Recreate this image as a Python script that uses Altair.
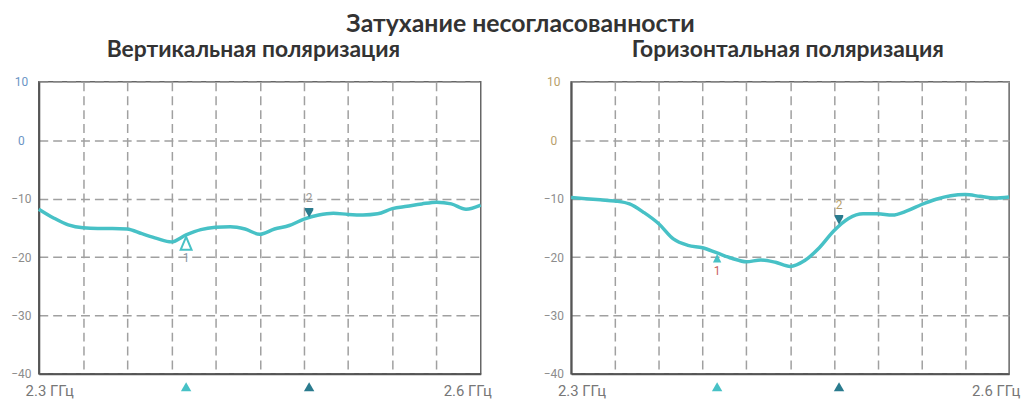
import altair as alt
import pandas as pd

# ---------------- data ----------------
freq_ghz = [2.30, 2.31, 2.32, 2.33, 2.34, 2.35, 2.36, 2.37, 2.38, 2.39,
            2.40, 2.41, 2.42, 2.43, 2.44, 2.45, 2.46, 2.47, 2.48, 2.49,
            2.50, 2.51, 2.52, 2.53, 2.54, 2.55, 2.56, 2.57, 2.58, 2.59, 2.60]

vert_db = [-11.8, -13.3, -14.5, -15.0, -15.1, -15.1, -15.2, -16.0, -16.8, -17.4,
           -16.2, -15.3, -14.9, -14.8, -15.2, -16.1, -15.2, -14.6, -13.5, -12.8,
           -12.5, -12.7, -12.8, -12.6, -11.7, -11.3, -10.9, -10.6, -10.9, -11.8, -11.1]

horz_db = [-9.8, -10.0, -10.2, -10.4, -10.9, -12.4, -14.3, -16.9, -18.0, -18.4,
           -19.3, -20.2, -20.8, -20.5, -20.9, -21.6, -20.6, -18.4, -15.5, -13.4,
           -12.6, -12.6, -12.8, -12.1, -11.0, -10.1, -9.5, -9.3, -9.6, -9.9, -9.7]

marker_ids = ["1", "2"]
marker_freq = [2.40, 2.4835]
vert_marker_db = [-16.2, -13.3]
horz_marker_db = [-19.4, -14.5]

y_ticks = [10, 0, -10, -20, -30, -40]
x_grid = [2.33, 2.36, 2.39, 2.42, 2.45, 2.48, 2.51, 2.54, 2.57]
x_end_freq = [2.3, 2.6]
x_end_text = ["2.3 ГГц", "2.6 ГГц"]

main_title = "Затухание несогласованности"
left_title = "Вертикальная поляризация"
right_title = "Горизонтальная поляризация"

# ---------------- styling ----------------
H = 294
LINE = "#47c1c6"
DARK = "#2a7b8e"
GRID = "#a0a0a0"


def panel(title, title_dx, values, marker_db, width, pos_label_color, lab1_color, lab2_color, hollow1):
    curve = pd.DataFrame({"f": freq_ghz, "db": values})
    mk = pd.DataFrame({"id": marker_ids, "f": marker_freq, "db": marker_db})
    m1 = mk[mk["id"] == "1"]
    m2 = mk[mk["id"] == "2"]
    ends = pd.DataFrame({"f": x_end_freq, "t": x_end_text})

    xs = alt.Scale(domain=[2.3, 2.6], nice=False, zero=False)
    ys = alt.Scale(domain=[-40, 10], nice=False, zero=False)

    x = alt.X("f:Q", scale=xs, title=None,
              axis=alt.Axis(values=x_grid, labels=False, ticks=False, grid=True,
                            gridDash=[9, 5], gridColor=GRID, gridWidth=1.5,
                            domainColor="#555", domainWidth=2))
    y = alt.Y("db:Q", scale=ys, title=None,
              axis=alt.Axis(values=y_ticks, ticks=False, tickSize=0, grid=True,
                            gridDash=[9, 5], gridColor=GRID, gridWidth=1.5,
                            domainColor="#555", domainWidth=2,
                            labelAlign="center", labelPadding=18,
                            labelFont="Roboto", labelFontSize=12,
                            labelColor=alt.expr(f"datum.value >= 0 ? '{pos_label_color}' : '#8c8c8c'")))

    xf = alt.X("f:Q", scale=xs)
    yf = alt.Y("db:Q", scale=ys)

    line = alt.Chart(curve).mark_line(color=LINE, strokeWidth=3.5,
                                      interpolate="monotone").encode(x=x, y=y)

    if hollow1:
        tri1 = alt.Chart(m1).mark_point(shape="M0,0.2L-0.55,1.5L0.55,1.5Z", size=400,
                                        filled=False, stroke=LINE, strokeWidth=2,
                                        opacity=1).encode(x=xf, y=yf)
        lab1_dy = 23
    else:
        tri1 = alt.Chart(m1).mark_point(shape="M0,0.05L-0.42,0.9L0.42,0.9Z", size=400,
                                        filled=True, color=LINE,
                                        opacity=1).encode(x=xf, y=yf)
        lab1_dy = 18
    tri2 = alt.Chart(m2).mark_point(shape="M-0.42,-1.0L0.42,-1.0L0.42,-0.8L0,-0.05L-0.42,-0.8Z",
                                    size=400, filled=True, color=DARK,
                                    opacity=1).encode(x=xf, y=yf)

    t1 = alt.Chart(m1).mark_text(dy=lab1_dy, fontSize=12, font="Roboto",
                                 color=lab1_color).encode(x=xf, y=yf, text="id:N")
    t2 = alt.Chart(m2).mark_text(dy=-20, fontSize=12, font="Roboto",
                                 color=lab2_color).encode(x=xf, y=yf, text="id:N")

    b1 = alt.Chart(m1).mark_point(shape="triangle-up", size=110, filled=True,
                                  color=LINE, opacity=1).encode(x=xf, y=alt.value(H + 13))
    b2 = alt.Chart(m2).mark_point(shape="triangle-up", size=110, filled=True,
                                  color=DARK, opacity=1).encode(x=xf, y=alt.value(H + 13))

    endlab_l = alt.Chart(ends[ends["f"] < 2.45]).mark_text(
        dx=11, fontSize=15, font="Roboto", color="#777", baseline="middle"
    ).encode(x=xf, y=alt.value(H + 17), text="t:N")
    endlab_r = alt.Chart(ends[ends["f"] > 2.45]).mark_text(
        dx=-13, fontSize=15, font="Roboto", color="#777", baseline="middle"
    ).encode(x=xf, y=alt.value(H + 17), text="t:N")

    return alt.layer(line, tri1, tri2, t1, t2, b1, b2, endlab_l, endlab_r).properties(
        width=width, height=H,
        title=alt.Title(title, font="Lato", fontSize=23, fontWeight="bold",
                        color="#333", anchor="middle", frame="bounds", offset=14,
                        dx=title_dx),
    )


left = panel(left_title, 2, vert_db, vert_marker_db, 445, "#6a94c4", "#8a96a4", "#9a9a9a", True)
right = panel(right_title, 6, horz_db, horz_marker_db, 441, "#b8a06a", "#c86060", "#b8a06a", False)

chart = alt.hconcat(left, right, spacing=91, bounds="flush").properties(
    title=alt.Title(main_title, font="Lato", fontSize=25, fontWeight="bold",
                    color="#333", anchor="middle", offset=1, dx=5),
    padding={"left": 2, "top": 3, "right": 5, "bottom": 5},
).configure_view(stroke="#666", strokeWidth=1.5)

chart.save("out.html", embed_options={"renderer": "svg", "actions": False})
